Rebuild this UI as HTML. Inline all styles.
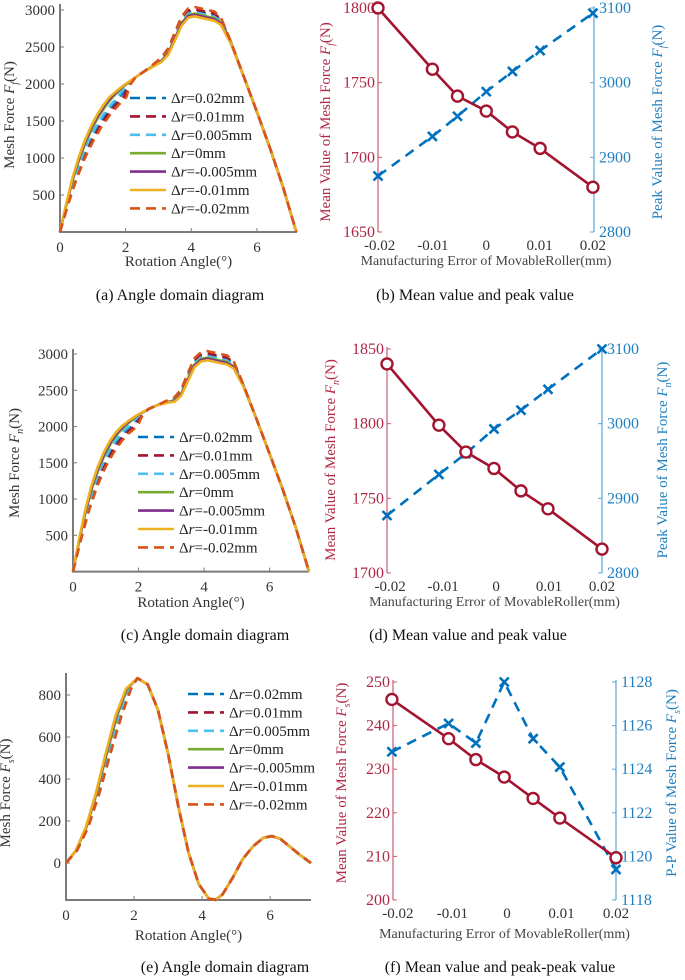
<!DOCTYPE html>
<html><head><meta charset="utf-8"><title>Mesh force charts</title>
<style>
html,body{margin:0;padding:0;background:#fff;}
svg{display:block;font-family:"Liberation Serif",serif;}
svg text{font-family:"Liberation Serif",serif;}
</style></head>
<body>
<svg id="fig" width="685" height="980" viewBox="0 0 685 980" font-family="Liberation Serif, serif" xmlns="http://www.w3.org/2000/svg"></svg>
<script>
// ---------- DATA ----------
const seriesLabels=["0.02mm","0.01mm","0.005mm","0mm","-0.005mm","-0.01mm","-0.02mm"];
const seriesColors=["#0072BD","#A2142F","#4DBEEE","#77AC30","#7E2F8E","#EDB120","#D95319"];
const seriesDashed=[true,true,true,false,false,false,true];

const aAngles=[0,0.2,0.4,0.6,0.8,1,1.2,1.4,1.6,1.8,2,2.3,2.6,2.9,3.1,3.3,3.5,3.7,3.9,4.1,4.3,4.5,4.7,4.9,5.2,5.6,6,6.4,6.8,7.2];
const aForce=[0,380,720,1000,1230,1420,1580,1710,1820,1910,1990,2090,2180,2260,2320,2420,2620,2820,2930,2950,2930,2910,2890,2830,2560,2100,1620,1130,600,0];
const aShift=[0.22,0.33,0.15,0,-0.05,-0.1,0.42];
const aPeak=[40,60,20,0,-15,-35,90];

const cAngles=[0,0.2,0.4,0.6,0.8,1,1.2,1.4,1.6,1.8,2,2.3,2.6,2.9,3.1,3.3,3.5,3.7,3.9,4.1,4.3,4.5,4.7,4.9,5.2,5.6,6,6.4,6.8,7.2];
const cForce=[0,450,850,1180,1440,1640,1800,1920,2010,2090,2160,2240,2300,2340,2360,2450,2650,2850,2930,2950,2930,2910,2890,2830,2560,2100,1620,1130,600,0];
const cShift=[0.2,0.3,0.12,0,-0.05,-0.1,0.38];
const cPeak=[40,60,20,0,-15,-35,90];

const eAngles=[0,0.3,0.6,0.9,1.2,1.5,1.8,2.1,2.4,2.7,3.0,3.3,3.6,3.9,4.2,4.4,4.6,4.9,5.2,5.5,5.8,6.05,6.3,6.6,6.9,7.2];
const eForce=[0,60,170,330,520,700,830,880,850,730,520,270,50,-100,-170,-175,-150,-70,20,80,120,128,115,75,35,0];
const eShift=[0.08,0.12,0.06,0,-0.03,-0.05,0.15];
const ePeak=[0,0,0,0,0,0,0];

const bX=[-0.0203,-0.0101,-0.0054,0,0.0049,0.0101,0.0200];
const bMean=[1800,1759,1741,1731,1717,1706,1680];
const bPeakVals=[2875,2928,2955,2988,3015,3043,3093];
const dX=[-0.0206,-0.0108,-0.0057,-0.0004,0.0047,0.0098,0.0200];
const dMean=[1840,1799,1781,1770,1755,1743,1716];
const dPeakVals=[2877,2932,2960,2993,3018,3046,3100];
const fX=[-0.0211,-0.0107,-0.0057,-0.0005,0.0048,0.0097,0.0200];
const fMean=[246,237,232.2,228.2,223.3,218.8,209.7];
const fPP=[1124.8,1126.1,1125.2,1128,1125.4,1124.1,1119.4];

const angleTicks=[0,2,4,6];
const forceTicks=[500,1000,1500,2000,2500,3000];
const eTicks=[0,200,400,600,800];
const errTicks=[-0.02,-0.01,0,0.01,0.02];
const errTickLabels=["-0.02","-0.01","0","0.01","0.02"];
const bLeftTicks=[1650,1700,1750,1800];
const bRightTicks=[2800,2900,3000,3100];
const dLeftTicks=[1700,1750,1800,1850];
const dRightTicks=[2800,2900,3000,3100];
const fLeftTicks=[200,210,220,230,240,250];
const fRightTicks=[1118,1120,1122,1124,1126,1128];

// ---------- HELPERS ----------
const NS="http://www.w3.org/2000/svg";
const svg=document.getElementById('fig');
function mk(tag,attrs,parent){const e=document.createElementNS(NS,tag);for(const k in attrs)e.setAttribute(k,attrs[k]);(parent||svg).appendChild(e);return e;}
function lin(d0,d1,r0,r1){return v=>r0+(v-d0)*(r1-r0)/(d1-d0);}
function txt(x,y,s,attrs,parent){const t=mk('text',Object.assign({x:x,y:y,'font-size':15,fill:'#333','font-family':'Liberation Serif, serif'},attrs||{}),parent);t.textContent=s;return t;}
function titleText(x,y,before,sub,rot,color,parent,name){
  const t=mk('text',{x:x,y:y,'font-size':15,fill:color,'font-family':'Liberation Serif, serif','text-anchor':'middle',transform:rot?`rotate(-90 ${x} ${y})`:''},parent);
  
  
  const a=mk('tspan',{},t);a.textContent=before;
  const f=mk('tspan',{'font-style':'italic'},t);f.textContent='F';
  const s=mk('tspan',{'font-style':'italic','font-size':10,dy:4},t);s.textContent=sub;
  const c=mk('tspan',{dy:-4},t);c.textContent='(N)';
  return t;
}

function angleChart(cfg){
  const g=mk('g',{});
  
  
  const X=lin(cfg.xd[0],cfg.xd[1],cfg.xr[0],cfg.xr[1]);
  const Y=lin(cfg.yd[0],cfg.yd[1],cfg.yr[0],cfg.yr[1]);
  const bot=cfg.bottom;
  const ax=mk('path',{d:`M${cfg.xr[0]},${cfg.top} L${cfg.xr[0]},${bot} L${cfg.xr[1]},${bot}`,stroke:'#7a7a7a','stroke-width':2,fill:'none'},g);
  
  
  cfg.xt.forEach(v=>{
    mk('line',{x1:X(v),x2:X(v),y1:bot,y2:bot-4,stroke:'#7a7a7a','stroke-width':1},g);
    const t=txt(X(v),bot+20,String(v),{'text-anchor':'middle'},g);
    
    
  });
  cfg.yt.forEach(v=>{
    mk('line',{x1:cfg.xr[0],x2:cfg.xr[0]+4,y1:Y(v),y2:Y(v),stroke:'#7a7a7a','stroke-width':1},g);
    const t=txt(cfg.xr[0]-5,Y(v)+5,String(v),{'text-anchor':'end'},g);
    
    
  });
  const xl=txt((cfg.xr[0]+cfg.xr[1])/2,cfg.xlabelY,'Rotation Angle(°)',{'text-anchor':'middle'},g);
  
  
  titleText(cfg.ytX,cfg.ytY,'Mesh Force ',cfg.sub,true,'#333',g,'y-axis-title');
  for(let s=0;s<7;s++){
    let d='';
    for(let i=0;i<cfg.ang.length;i++){
      const x=cfg.ang[i];
      let w=x<=cfg.xm?x/cfg.xm:Math.max(0,1-(x-cfg.xm)/cfg.taper);
      let gp=0;
      if(x>2.6&&x<3.6)gp=(x-2.6);else if(x>=3.6&&x<=4.8)gp=1;else if(x>4.8&&x<5.3)gp=(5.3-x)/0.5;
      const xx=x+cfg.shift[s]*w;
      const yy=cfg.f[i]+cfg.peak[s]*gp;
      d+=(i?'L':'M')+X(xx).toFixed(1)+','+Y(yy).toFixed(1);
    }
    const p=mk('path',{d:d,fill:'none',stroke:seriesColors[s],'stroke-width':2.6,'stroke-dasharray':seriesDashed[s]?'9,6':'none','stroke-linejoin':'round'},g);
    
    
  }
  const lg=mk('g',{},g);
  
  
  for(let s=0;s<7;s++){
    const y=cfg.legY+s*18.4;
    mk('line',{x1:cfg.legX,x2:cfg.legX+36,y1:y,y2:y,stroke:seriesColors[s],'stroke-width':2.6,'stroke-dasharray':seriesDashed[s]?'10,6':'none'},lg);
    const t=mk('text',{x:cfg.legX+41,y:y+5,'font-size':15,fill:'#222','font-family':'Liberation Serif, serif'},lg);
    
    
    const a=mk('tspan',{},t);a.textContent='Δ';
    const b=mk('tspan',{'font-style':'italic'},t);b.textContent='r';
    const c=mk('tspan',{},t);c.textContent='='+seriesLabels[s];
  }
  const cap=txt(cfg.capX,cfg.capY,cfg.caption,{'text-anchor':'middle','font-size':16,fill:'#111'},g);
  
  
}

function errChart(cfg){
  const g=mk('g',{});
  
  
  const X=lin(cfg.xd[0],cfg.xd[1],cfg.xr[0],cfg.xr[1]);
  const YL=lin(cfg.ld[0],cfg.ld[1],cfg.yr[0],cfg.yr[1]);
  const YR=lin(cfg.rd[0],cfg.rd[1],cfg.yr[0],cfg.yr[1]);
  const red='#A2142F',blue='#0072BD';
  const la=mk('line',{x1:cfg.xr[0],x2:cfg.xr[0],y1:cfg.yr[1]-2,y2:cfg.yr[0],stroke:'#c45a70','stroke-width':1.2},g);
  
  
  const ra=mk('line',{x1:cfg.xr[1],x2:cfg.xr[1],y1:cfg.yr[1]-2,y2:cfg.yr[0],stroke:'#5aa7d6','stroke-width':1.2},g);
  
  
  cfg.lt.forEach(v=>{
    mk('line',{x1:cfg.xr[0],x2:cfg.xr[0]+4,y1:YL(v),y2:YL(v),stroke:'#c45a70','stroke-width':1},g);
    const t=txt(cfg.xr[0]-3,YL(v)+5,String(v),{'text-anchor':'end',fill:'#b02845','font-size':16},g);
    
    
  });
  cfg.rt.forEach(v=>{
    mk('line',{x1:cfg.xr[1],x2:cfg.xr[1]-4,y1:YR(v),y2:YR(v),stroke:'#5aa7d6','stroke-width':1},g);
    const t=txt(cfg.xr[1]+5,YR(v)+5,String(v),{fill:'#1f7fbf','font-size':16},g);
    
    
  });
  errTicks.forEach((v,i)=>{
    const t=txt(X(v),cfg.yr[0]+18,errTickLabels[i],{'text-anchor':'middle'},g);
    
    
  });
  const xl=txt((cfg.xr[0]+cfg.xr[1])/2,cfg.xlabelY,'Manufacturing Error of MovableRoller(mm)',{'text-anchor':'middle','font-family':'Liberation Sans Narrow, Liberation Sans, sans-serif','font-size':14,fill:'#444'},g);
  
  
  titleText(cfg.ltX,cfg.tY,'Mean Value of Mesh Force ',cfg.sub,true,'#b02845',g,'left-axis-title');
  titleText(cfg.rtX,cfg.tY,cfg.rPrefix,cfg.sub,true,'#1f7fbf',g,'right-axis-title');
  let d='';cfg.x.forEach((v,i)=>{d+=(i?'L':'M')+X(v).toFixed(1)+','+YR(cfg.right[i]).toFixed(1);});
  const pl=mk('path',{d:d,fill:'none',stroke:blue,'stroke-width':2.6,'stroke-dasharray':'10,7'},g);
  
  
  cfg.x.forEach((v,i)=>{
    const cx=X(v),cy=YR(cfg.right[i]);
    const m=mk('path',{d:`M${cx-4.5},${cy-4.5}L${cx+4.5},${cy+4.5}M${cx-4.5},${cy+4.5}L${cx+4.5},${cy-4.5}`,stroke:blue,'stroke-width':2.6,fill:'none'},g);
    
    
  });
  d='';cfg.x.forEach((v,i)=>{d+=(i?'L':'M')+X(v).toFixed(1)+','+YL(cfg.left[i]).toFixed(1);});
  const ml=mk('path',{d:d,fill:'none',stroke:red,'stroke-width':2.6},g);
  
  
  cfg.x.forEach((v,i)=>{
    const c=mk('circle',{cx:X(v),cy:YL(cfg.left[i]),r:5.5,fill:'#fff',stroke:red,'stroke-width':2.4},g);
    
    
  });
  const cap=txt(cfg.capX,cfg.capY,cfg.caption,{'text-anchor':'middle','font-size':16,fill:'#111'},g);
  
  
}

// ---------- DRAW ----------
angleChart({name:'chart-a',xd:[0,7.22],xr:[60,297],yd:[0,3000],yr:[232,10],bottom:232,top:4,xt:angleTicks,yt:forceTicks,
  xlabelY:266,ytX:14,ytY:115,sub:'f',ang:aAngles,f:aForce,shift:aShift,peak:aPeak,xm:1.6,taper:0.6,
  legX:130,legY:98,capX:180,capY:300,caption:'(a) Angle domain diagram'});
angleChart({name:'chart-c',xd:[0,7.2],xr:[73,309],yd:[0,3000],yr:[571.6,354],bottom:571.6,top:349,xt:angleTicks,yt:forceTicks,
  xlabelY:607,ytX:19,ytY:463,sub:'n',ang:cAngles,f:cForce,shift:cShift,peak:cPeak,xm:1.6,taper:0.6,
  legX:138,legY:437,capX:205,capY:640,caption:'(c) Angle domain diagram'});
angleChart({name:'chart-e',xd:[0,7.2],xr:[66,311],yd:[0,800],yr:[863,695],bottom:900,top:673,xt:angleTicks,yt:eTicks,
  xlabelY:940,ytX:10,ytY:793,sub:'s',ang:eAngles,f:eForce,shift:eShift,peak:ePeak,xm:1.7,taper:0.4,
  legX:188,legY:694,capX:225,capY:972,caption:'(e) Angle domain diagram'});

errChart({name:'chart-b',xd:[-0.0203,0.0202],xr:[378,594],ld:[1650,1800],rd:[2800,3100],yr:[232,8],
  lt:bLeftTicks,rt:bRightTicks,x:bX,left:bMean,right:bPeakVals,xlabelY:265,ltX:330,rtX:662,tY:122,sub:'f',
  rPrefix:'Peak Value of Mesh Force ',capX:475,capY:300,caption:'(b) Mean value and peak value'});
errChart({name:'chart-d',xd:[-0.0206,0.0200],xr:[387,602],ld:[1700,1850],rd:[2800,3100],yr:[573,349],
  lt:dLeftTicks,rt:dRightTicks,x:dX,left:dMean,right:dPeakVals,xlabelY:606,ltX:335,rtX:667,tY:460,sub:'n',
  rPrefix:'Peak Value of Mesh Force ',capX:468,capY:640,caption:'(d) Mean value and peak value'});
errChart({name:'chart-f',xd:[-0.0209,0.0200],xr:[393,616],ld:[200,250],rd:[1118,1128],yr:[900,682],
  lt:fLeftTicks,rt:fRightTicks,x:fX,left:fMean,right:fPP,xlabelY:938,ltX:346,rtX:676,tY:783,sub:'s',
  rPrefix:'P-P Value of Mesh Force ',capX:500,capY:972,caption:'(f) Mean value and peak-peak value'});
</script>
</body></html>
